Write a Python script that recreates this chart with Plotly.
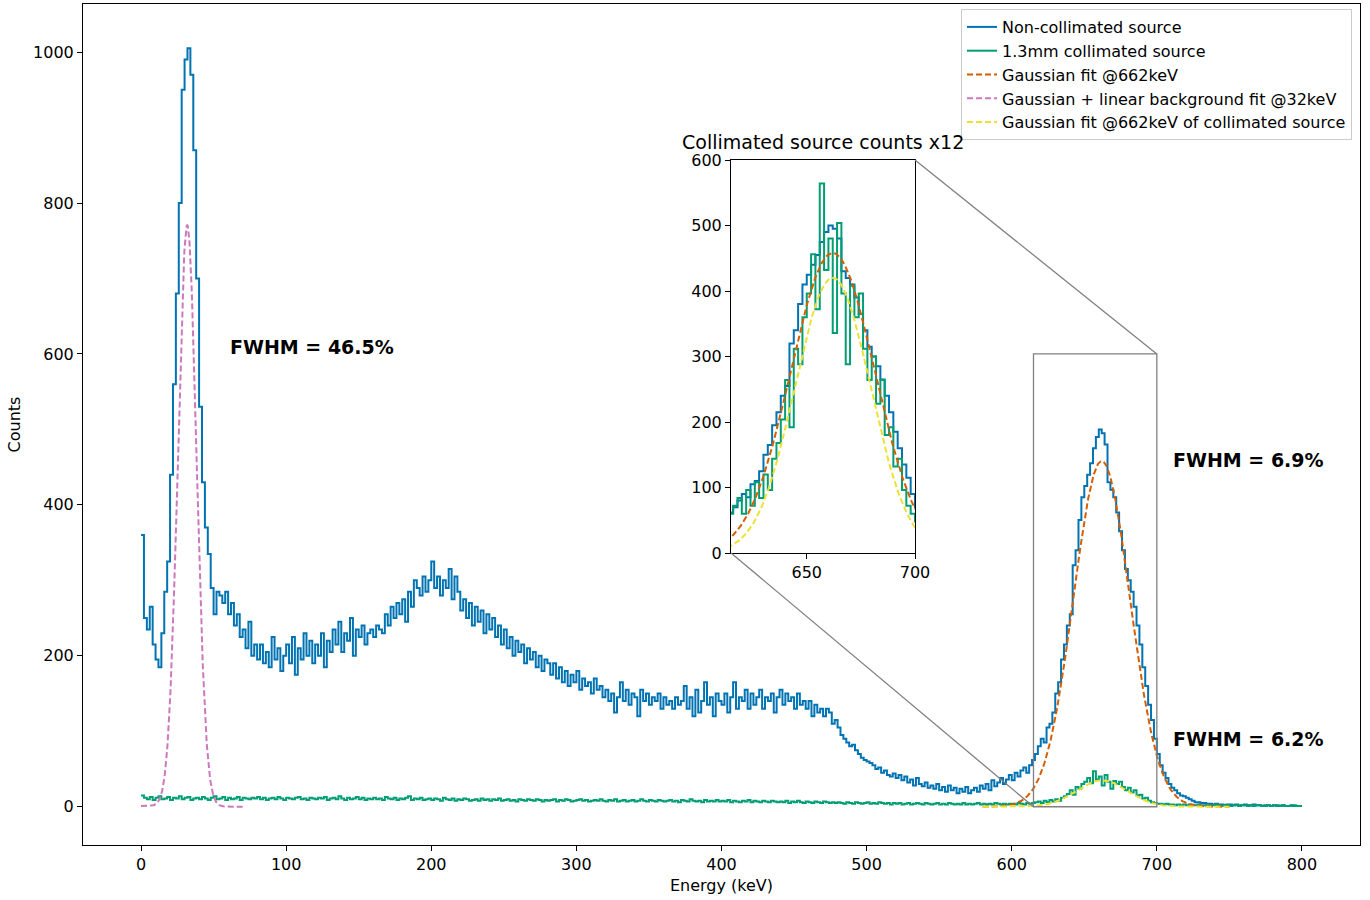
import numpy as np
import plotly.graph_objects as go

# ---------------- data (2 keV bins, left edges from 0 to 798 keV) ----------------
bin_width = 2
energy_min = 0
energy_max = 800

non_collimated = [
    360, 250, 235, 265, 215, 195, 185, 230, 285, 325, 440, 560, 680, 800, 950, 990, 1005, 970, 870, 700,   # 0-38
    530, 430, 370, 335, 290, 255, 285, 280, 270, 285, 255, 270, 240, 255, 225, 235, 210, 245, 200, 215,    # 40-78
    195, 215, 190, 205, 185, 225, 195, 210, 180, 200, 215, 190, 225, 175, 210, 195, 230, 200, 220, 190,    # 80-118
    215, 200, 230, 185, 220, 205, 235, 215, 245, 205, 230, 220, 250, 200, 235, 225, 240, 215, 230, 235,    # 120-158
    225, 240, 235, 230, 255, 240, 265, 250, 270, 255, 275, 245, 285, 265, 300, 290, 280, 305, 285, 300,    # 160-198
    325, 290, 305, 280, 300, 290, 315, 275, 305, 285, 260, 275, 250, 270, 240, 265, 245, 260, 230, 255,    # 200-238
    235, 250, 225, 240, 215, 235, 210, 225, 200, 220, 205, 215, 190, 210, 195, 205, 185, 200, 180, 195,    # 240-278
    190, 175, 190, 170, 185, 165, 180, 160, 175, 165, 180, 155, 170, 160, 165, 150, 170, 155, 160, 145,    # 280-318
    155, 140, 150, 125, 145, 165, 140, 155, 135, 150, 145, 120, 155, 140, 150, 135, 145, 140, 150, 130,    # 320-358
    145, 135, 140, 130, 145, 135, 140, 160, 130, 145, 120, 155, 125, 140, 165, 135, 145, 120, 150, 140,    # 360-398
    135, 150, 125, 145, 165, 130, 145, 140, 155, 130, 150, 135, 145, 155, 130, 145, 140, 150, 125, 145,    # 400-438
    155, 135, 150, 140, 145, 130, 150, 135, 140, 130, 140, 120, 135, 125, 130, 120, 130, 125, 110, 115,    # 440-478
    105, 95, 90, 85, 80, 82, 75, 70, 65, 62, 60, 58, 55, 50, 52, 45, 48, 42, 40, 44,                       # 480-518
    38, 42, 35, 40, 32, 36, 28, 38, 30, 27, 32, 25, 28, 24, 30, 22, 26, 20, 28, 22,                        # 520-558
    25, 18, 24, 20, 26, 18, 22, 25, 20, 28, 24, 30, 22, 35, 27, 32, 38, 30, 36, 42,                        # 560-598
    35, 45, 40, 48, 52, 45, 55, 62, 70, 80, 90, 85, 105, 110, 125, 150, 165, 195, 215, 240,                # 600-638
    255, 320, 340, 380, 410, 425, 440, 455, 475, 490, 500, 495, 480, 430, 420, 410, 390, 365, 340, 315,    # 640-678
    300, 285, 265, 240, 215, 185, 160, 135, 115, 90, 70, 55, 45, 38, 30, 25, 22, 18, 15, 14,               # 680-718
    12, 10, 8, 6, 6, 5, 5, 4, 4, 3, 4, 3, 3, 2, 3, 3, 2, 3, 2, 2,                                          # 720-758
    3, 2, 2, 3, 2, 2, 1, 2, 2, 1, 2, 2, 1, 2, 1, 1, 2, 1, 1, 1,                                            # 760-798
]

collimated = [
    15, 12, 10, 13, 9, 12, 14, 10, 11, 13, 9, 12, 11, 14, 10, 12, 13, 9, 11, 12,
    10, 13, 11, 9, 12, 14, 10, 11, 13, 9, 12, 10, 11, 13, 9, 12, 11, 10, 12, 11,
    13, 10, 12, 9, 11, 12, 10, 13, 11, 9, 12, 11, 10, 12, 13, 10, 11, 9, 12, 11,
    10, 12, 11, 13, 9, 11, 12, 10, 14, 11, 9, 12, 10, 11, 13, 10, 12, 9, 11, 10,
    12, 10, 11, 9, 13, 11, 10, 12, 9, 11, 10, 12, 14, 9, 11, 10, 12, 9, 10, 11,
    9, 11, 10, 8, 12, 10, 9, 11, 8, 10, 9, 11, 10, 8, 9, 10, 8, 11, 9, 10,
    8, 10, 9, 11, 8, 9, 10, 8, 9, 7, 10, 9, 8, 10, 9, 8, 10, 9, 7, 9,
    8, 9, 10, 7, 9, 8, 10, 9, 7, 8, 9, 10, 8, 9, 7, 8, 9, 8, 10, 8,
    7, 9, 8, 10, 7, 8, 9, 7, 8, 9, 7, 8, 10, 8, 7, 9, 8, 7, 9, 8,
    7, 8, 9, 7, 8, 6, 9, 8, 7, 10, 8, 7, 8, 6, 9, 7, 8, 7, 9, 7,
    8, 7, 9, 6, 8, 7, 6, 8, 7, 9, 6, 8, 7, 6, 8, 7, 6, 8, 7, 6,
    7, 6, 8, 5, 7, 6, 8, 6, 5, 7, 6, 5, 7, 6, 5, 7, 6, 5, 6, 5,
    6, 5, 4, 6, 5, 4, 6, 5, 4, 5, 6, 4, 5, 4, 6, 5, 4, 5, 3, 5,
    4, 5, 3, 4, 5, 3, 4, 5, 4, 3, 5, 4, 3, 4, 5, 3, 4, 3, 5, 4,
    3, 4, 3, 5, 3, 4, 3, 4, 5, 3, 4, 3, 4, 3, 5, 4, 3, 4, 3, 4,
    4, 3, 5, 4, 3, 5, 4, 5, 6, 7, 5, 8, 6, 9, 7, 10, 8, 12, 14, 17,
    22, 16, 26, 24, 30, 33, 38, 31, 47, 36, 40, 28, 42, 33, 24, 34, 30, 33, 26, 22,
    25, 19, 22, 15, 16, 11, 12, 8, 6, 5, 4, 4, 3, 4, 3, 3, 2, 3, 2, 3,
    2, 3, 2, 2, 3, 2, 2, 1, 2, 2, 3, 2, 1, 2, 2, 1, 2, 2, 1, 2,
    2, 1, 2, 1, 2, 2, 1, 1, 2, 1, 2, 1, 1, 2, 1, 1, 1, 2, 1, 1,
]

# Fit parameters
fit662_amp, fit662_mu, fit662_sigma = 458.0, 662.0, 19.4
fit662c_amp, fit662c_mu, fit662c_sigma = 35.0, 662.0, 17.4
fit32_amp, fit32_mu, fit32_sigma = 770.0, 31.8, 6.4
fit32_bg_intercept, fit32_bg_slope = 1.0, -0.015
fit662_range = [580, 750]
fit32_range = [0, 70]

collimated_scale = 12
inset_xrange = [615, 700]
inset_yrange = [0, 600]
inset_xticks = [650, 700]

labels = ["Non-collimated source", "1.3mm collimated source", "Gaussian fit @662keV",
          "Gaussian + linear background fit @32keV", "Gaussian fit @662keV of collimated source"]
fwhm_texts = ["FWHM = 46.5%", "FWHM = 6.9%", "FWHM = 6.2%"]
fwhm_pos = [(60, 600), (710, 450), (710, 80)]

# ---------------- styling ----------------
C_BLUE, C_GREEN, C_ORANGE, C_PINK, C_YELLOW = "#0173b2", "#029e73", "#d55e00", "#cc78bc", "#ece133"
FONT = "DejaVu Sans"
W, H = 1370, 900

main_xrange = [-40, 840]
main_yrange = [-50.7, 1063.7]
main_xdom = [83 / W, 1360 / W]
main_ydom = [1 - 845 / H, 1 - 4 / H]
inset_xdom = [731 / W, 915 / W]
inset_ydom = [1 - 553 / H, 1 - 160 / H]

# step coordinates
edges = np.arange(energy_min, energy_max + bin_width, bin_width)
blue_y = np.append(non_collimated, non_collimated[-1])
green_y = np.append(collimated, collimated[-1])


def gauss(x, a, mu, s):
    return a * np.exp(-(x - mu) ** 2 / (2 * s ** 2))


x662 = np.linspace(fit662_range[0], fit662_range[1], 400)
x32 = np.linspace(fit32_range[0], fit32_range[1], 300)
y662 = gauss(x662, fit662_amp, fit662_mu, fit662_sigma)
y662c = gauss(x662, fit662c_amp, fit662c_mu, fit662c_sigma)
y32 = gauss(x32, fit32_amp, fit32_mu, fit32_sigma) + fit32_bg_intercept + fit32_bg_slope * x32

DASH = "6px,3px"
fig = go.Figure()
# main
fig.add_trace(go.Scatter(x=edges, y=blue_y, mode="lines", line=dict(color=C_BLUE, width=2, shape="hv"),
                         name=labels[0], xaxis="x", yaxis="y"))
fig.add_trace(go.Scatter(x=edges, y=green_y, mode="lines", line=dict(color=C_GREEN, width=2, shape="hv"),
                         name=labels[1], xaxis="x", yaxis="y"))
fig.add_trace(go.Scatter(x=x662, y=y662, mode="lines", line=dict(color=C_ORANGE, width=2, dash=DASH),
                         name=labels[2], xaxis="x", yaxis="y"))
fig.add_trace(go.Scatter(x=x32, y=y32, mode="lines", line=dict(color=C_PINK, width=2, dash=DASH),
                         name=labels[3], xaxis="x", yaxis="y"))
fig.add_trace(go.Scatter(x=x662, y=y662c, mode="lines", line=dict(color=C_YELLOW, width=2, dash=DASH),
                         name=labels[4], xaxis="x", yaxis="y"))
# inset
fig.add_trace(go.Scatter(x=edges, y=blue_y, mode="lines", line=dict(color=C_BLUE, width=2, shape="hv"),
                         showlegend=False, xaxis="x2", yaxis="y2"))
fig.add_trace(go.Scatter(x=edges, y=green_y * collimated_scale, mode="lines",
                         line=dict(color=C_GREEN, width=2, shape="hv"),
                         showlegend=False, xaxis="x2", yaxis="y2"))
fig.add_trace(go.Scatter(x=x662, y=y662, mode="lines", line=dict(color=C_ORANGE, width=2, dash=DASH),
                         showlegend=False, xaxis="x2", yaxis="y2"))
fig.add_trace(go.Scatter(x=x662, y=y662c * collimated_scale, mode="lines",
                         line=dict(color=C_YELLOW, width=2, dash=DASH),
                         showlegend=False, xaxis="x2", yaxis="y2"))

axis_common = dict(showgrid=False, zeroline=False, showline=True, linecolor="black", linewidth=1,
                   mirror=True, ticks="outside", ticklen=5, tickwidth=1, tickcolor="black",
                   tickfont=dict(family=FONT, size=16, color="black"), automargin=False)


def px(v, rng, dom):
    return dom[0] + (v - rng[0]) / (rng[1] - rng[0]) * (dom[1] - dom[0])


shapes = [
    dict(type="rect", xref="x", yref="y", x0=inset_xrange[0], x1=inset_xrange[1],
         y0=inset_yrange[0], y1=inset_yrange[1], line=dict(color="gray", width=1.3)),
    dict(type="line", xref="paper", yref="paper",
         x0=px(inset_xrange[1], main_xrange, main_xdom), y0=px(inset_yrange[1], main_yrange, main_ydom),
         x1=inset_xdom[1], y1=inset_ydom[1], line=dict(color="gray", width=1.3)),
    dict(type="line", xref="paper", yref="paper",
         x0=px(inset_xrange[0], main_xrange, main_xdom), y0=px(inset_yrange[0], main_yrange, main_ydom),
         x1=inset_xdom[0], y1=inset_ydom[0], line=dict(color="gray", width=1.3)),
]

annotations = [
    dict(x=x, y=y, xref="x", yref="y", text=f"<b>{t}</b>", showarrow=False, xanchor="left",
         yanchor="bottom", yshift=-6, font=dict(family=FONT, size=19, color="black"))
    for t, (x, y) in zip(fwhm_texts, fwhm_pos)
]
annotations.append(dict(x=(inset_xdom[0] + inset_xdom[1]) / 2, y=inset_ydom[1], xref="paper", yref="paper",
                        text=f"Collimated source counts x{collimated_scale}", showarrow=False,
                        xanchor="center", yanchor="bottom", yshift=5,
                        font=dict(family=FONT, size=19, color="black")))

fig.update_layout(
    width=W, height=H, margin=dict(l=0, r=0, t=0, b=0),
    paper_bgcolor="white", plot_bgcolor="white",
    font=dict(family=FONT, size=16, color="black"),
    xaxis=dict(domain=main_xdom, range=main_xrange, tickvals=list(range(0, 801, 100)),
               title=dict(text="Energy (keV)", font=dict(family=FONT, size=16), standoff=6), **axis_common),
    yaxis=dict(domain=main_ydom, range=main_yrange, tickvals=list(range(0, 1001, 200)),
               title=dict(text="Counts", font=dict(family=FONT, size=16), standoff=8), **axis_common),
    xaxis2=dict(domain=inset_xdom, range=inset_xrange, tickvals=inset_xticks, anchor="y2", **axis_common),
    yaxis2=dict(domain=inset_ydom, range=inset_yrange, tickvals=list(range(0, 601, 100)), anchor="x2",
                **axis_common),
    legend=dict(x=1352 / W, y=1 - 9 / H, xanchor="right", yanchor="top", bgcolor="rgba(255,255,255,0.85)",
                bordercolor="#cccccc", borderwidth=1, font=dict(family=FONT, size=16)),
    shapes=shapes, annotations=annotations, showlegend=True,
)

fig.write_html("out.html")
